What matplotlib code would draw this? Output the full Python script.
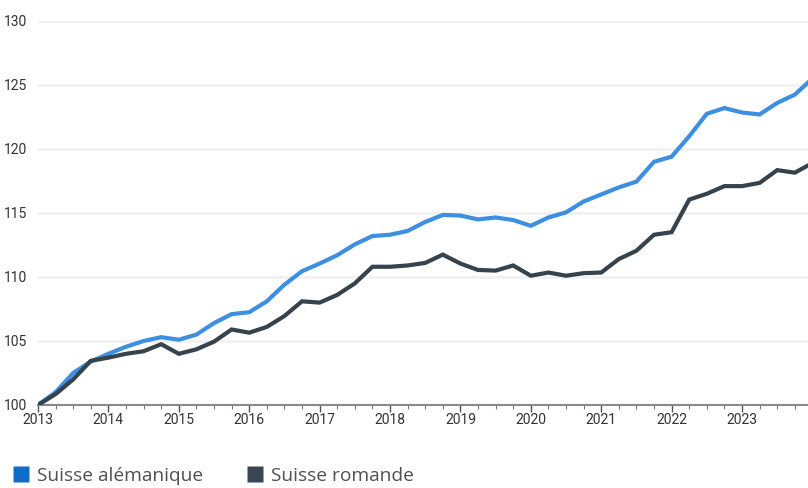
import matplotlib
matplotlib.use('Agg')
import matplotlib.pyplot as plt
from matplotlib.lines import Line2D
from matplotlib.ticker import MultipleLocator

# quarterly index, 2013 Q1 = 100
start_year = 2013
alemanique = [100.0, 101.0, 102.5, 103.4, 104.0, 104.55, 105.0, 105.3, 105.1, 105.5,
              106.4, 107.1, 107.25, 108.1, 109.4, 110.45, 111.05, 111.7, 112.55, 113.2,
              113.3, 113.6, 114.3, 114.85, 114.8, 114.5, 114.65, 114.45, 114.0, 114.65,
              115.05, 115.9, 116.45, 117.0, 117.45, 119.0, 119.4, 121.0, 122.75, 123.2,
              122.85, 122.7, 123.6, 124.25, 125.5]
romande = [100.0, 100.85, 102.0, 103.45, 103.7, 104.0, 104.2, 104.75, 104.0, 104.35,
           104.95, 105.9, 105.65, 106.1, 106.95, 108.1, 108.0, 108.6, 109.5, 110.8,
           110.8, 110.9, 111.1, 111.75, 111.05, 110.55, 110.5, 110.9, 110.1, 110.35,
           110.1, 110.3, 110.35, 111.4, 112.05, 113.3, 113.5, 116.05, 116.5, 117.1,
           117.1, 117.35, 118.35, 118.15, 118.9]
labels = ['Suisse alémanique', 'Suisse romande']
year_ticks = list(range(2013, 2024))
y_ticks = [100, 105, 110, 115, 120, 125, 130]

blue = '#3d8fe2'
dark = '#36424c'

x = [start_year + i / 4 for i in range(len(alemanique))]

plt.rcParams['font.family'] = ['Roboto', 'DejaVu Sans']
fig = plt.figure(figsize=(8.08, 4.88), dpi=100)
ax = fig.add_axes([38 / 808, 1 - 405 / 488, 1 - 38 / 808, (405 - 21) / 488])

ax.plot(x, alemanique, color=blue, lw=3, solid_joinstyle='miter', zorder=3, clip_on=True)
ax.plot(x, romande, color=dark, lw=3, solid_joinstyle='miter', zorder=4, clip_on=True)

ax.set_xlim(2013, 2013 + (808 - 38) / 70.4)
ax.set_ylim(100, 130)
ax.set_yticks(y_ticks)
ax.set_xticks(year_ticks)
ax.xaxis.set_minor_locator(MultipleLocator(0.25))

ax.grid(axis='y', color='#f1f1f1', lw=2, zorder=0)
for s in ['left', 'right', 'top']:
    ax.spines[s].set_visible(False)
ax.spines['bottom'].set_color('#8a8a8a')
ax.spines['bottom'].set_linewidth(1.5)
ax.spines['bottom'].set_zorder(2)

ax.tick_params(axis='y', length=0, pad=8, labelsize=10, labelcolor='#333333')
ax.tick_params(axis='x', which='major', length=5, width=1, color='#555555',
               pad=1, labelsize=10, labelcolor='#333333')
ax.tick_params(axis='x', which='minor', length=3, width=0.8, color='#777777')

handles = [Line2D([], [], ls='none', marker='s', ms=11.5, mfc='#0f6cc7', mec='none'),
           Line2D([], [], ls='none', marker='s', ms=11.5, mfc='#3a4752', mec='none')]
fig.legend(handles, labels, loc='center left', bbox_to_anchor=(-0.005, 0.025), ncol=2,
           frameon=False, handlelength=0.8, handletextpad=0.45,
           columnspacing=2.3, labelcolor='#505050',
           prop={'family': ['Open Sans', 'DejaVu Sans'], 'size': 13.8})

fig.savefig('out.png', dpi=100)
